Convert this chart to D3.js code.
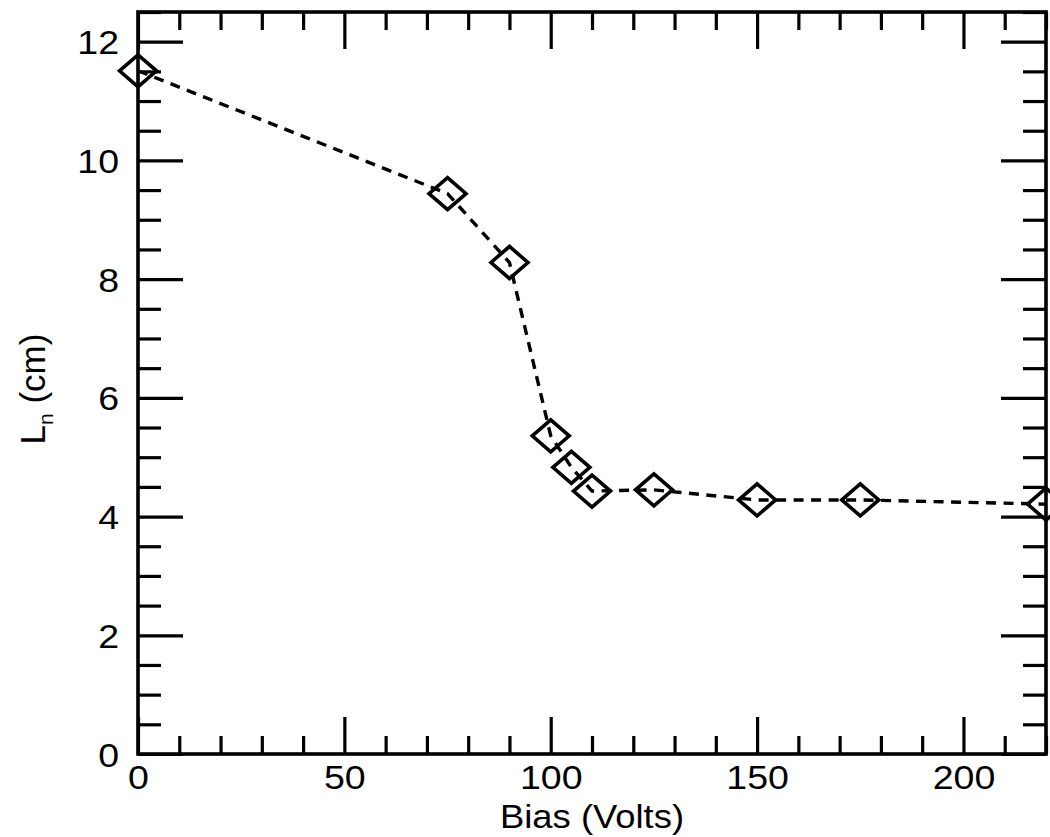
<!DOCTYPE html>
<html>
<head>
<meta charset="utf-8">
<script src="https://cdn.jsdelivr.net/npm/d3@7"></script>
<style>
  html, body { margin: 0; padding: 0; background: #fff; }
  svg { display: block; }
  text { font-family: "Liberation Sans", Arial, Helvetica, sans-serif; fill: #000; }
</style>
</head>
<body>
<svg id="chart" width="1050" height="837"></svg>
<script>
// Bias voltage (V) and the measured density gradient length L_n (cm)
const bias = [0, 75, 90, 100, 105, 110, 125, 150, 175, 220];
const lengthN = [11.51, 9.44, 8.28, 5.36, 4.83, 4.43, 4.45, 4.28, 4.28, 4.21];

const xMajorTicks = [0, 50, 100, 150, 200];
const yMajorTicks = [0, 2, 4, 6, 8, 10, 12];

const W = 1050, H = 837;
const margin = { left: 138, right: 4, top: 12, bottom: 83 };
const plotW = W - margin.left - margin.right;
const plotH = H - margin.top - margin.bottom;
const stretch = 1.12;   // labels are set slightly wide

const svg = d3.select("#chart");
const g = svg.append("g").attr("transform", `translate(${margin.left},${margin.top})`);

const x = d3.scaleLinear().domain([0, 220]).range([0, plotW]);
const y = d3.scaleLinear().domain([0, 12.5]).range([plotH, 0]);

const xMinor = d3.range(0, 221, 10).filter(v => v % 50 !== 0);
const yMinor = d3.range(0, 12.51, 0.5).filter(v => v % 2 !== 0);

function styleAxis(sel) {
  sel.select(".domain").remove();
  sel.selectAll(".tick line").attr("stroke", "#000").attr("stroke-width", 3.2);
  sel.selectAll(".tick text").style("font-size", "33.5px");
}

// Inward ticks on all four sides of the frame
const axisDefs = [
  { make: d3.axisBottom, scale: x, pos: `translate(0,${plotH})`, major: xMajorTicks, minor: xMinor, majLen: 37, minLen: 18, labels: true },
  { make: d3.axisTop, scale: x, pos: `translate(0,0)`, major: xMajorTicks, minor: xMinor, majLen: 37, minLen: 18, labels: false },
  { make: d3.axisLeft, scale: y, pos: `translate(0,0)`, major: yMajorTicks, minor: yMinor, majLen: 45, minLen: 23, labels: true },
  { make: d3.axisRight, scale: y, pos: `translate(${plotW},0)`, major: yMajorTicks, minor: yMinor, majLen: 45, minLen: 23, labels: false }
];

axisDefs.forEach(d => {
  const minorAx = d.make(d.scale).tickValues(d.minor).tickSize(-d.minLen).tickFormat("");
  g.append("g").attr("transform", d.pos).call(minorAx).call(styleAxis);
  const majorAx = d.make(d.scale).tickValues(d.major).tickSizeInner(-d.majLen).tickSizeOuter(0)
    .tickFormat(d.labels ? d3.format("d") : "");
  const ax = g.append("g").attr("transform", d.pos).call(majorAx).call(styleAxis);
  if (d.labels) {
    if (d.make === d3.axisBottom) {
      ax.selectAll(".tick text")
        .attr("x", 0).attr("y", 0).attr("dy", "1.05em")
        .attr("transform", `scale(${stretch},1)`);
    } else {
      ax.selectAll(".tick text")
        .attr("x", 0).attr("dy", "0.36em")
        .attr("transform", `translate(-19,0) scale(${stretch},1)`);
    }
  }
});

// Plot frame
g.append("rect")
  .attr("x", 0).attr("y", 0).attr("width", plotW).attr("height", plotH)
  .attr("fill", "none").attr("stroke", "#000").attr("stroke-width", 3.6);

const pts = bias.map((b, i) => ({ b, l: lengthN[i] }));

// Dashed connecting line
g.append("path")
  .datum(pts)
  .attr("fill", "none")
  .attr("stroke", "#000")
  .attr("stroke-width", 3.4)
  .attr("stroke-dasharray", "10,7.5")
  .attr("d", d3.line().x(d => x(d.b)).y(d => y(d.l)));

// Diamond markers
const hw = 18.5, hh = 16;
g.selectAll("path.marker")
  .data(pts)
  .join("path")
  .attr("class", "marker")
  .attr("fill", "none")
  .attr("stroke", "#000")
  .attr("stroke-width", 3.6)
  .attr("stroke-linejoin", "miter")
  .attr("d", d => {
    const cx = x(d.b), cy = y(d.l);
    return `M${cx - hw},${cy}L${cx},${cy - hh}L${cx + hw},${cy}L${cx},${cy + hh}Z`;
  });

// Axis titles
const xTitleX = margin.left + plotW / 2;
svg.append("text")
  .attr("x", 0)
  .attr("y", 0)
  .attr("transform", `translate(${xTitleX},828) scale(${stretch},1)`)
  .attr("text-anchor", "middle")
  .style("font-size", "32.5px")
  .text("Bias (Volts)");

const yTitle = svg.append("text")
  .attr("transform", `translate(45,${margin.top + plotH / 2 + 6}) rotate(-90)`)
  .attr("text-anchor", "middle")
  .style("font-size", "35px");
yTitle.append("tspan").text("L");
yTitle.append("tspan").attr("dy", 8).style("font-size", "21px").text("n");
yTitle.append("tspan").attr("dy", -8).text(" (cm)");
</script>
</body>
</html>
